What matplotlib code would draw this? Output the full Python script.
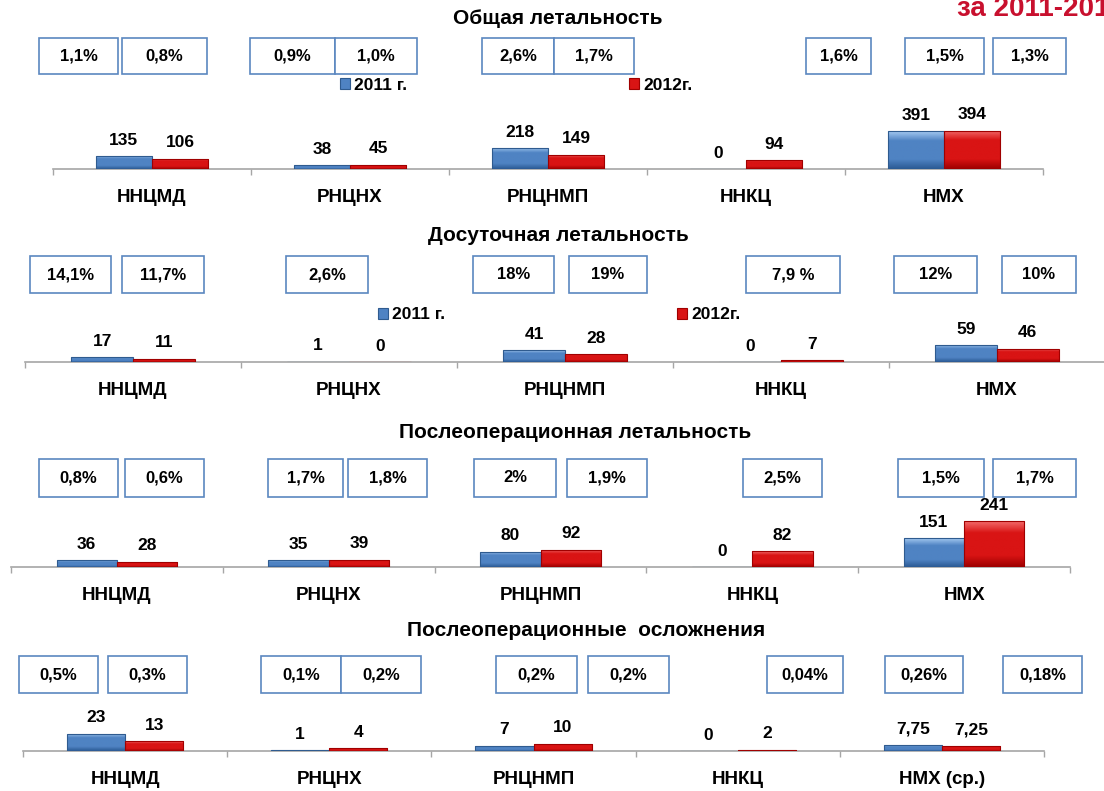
import matplotlib.pyplot as plt
import numpy as np
from matplotlib.patches import Rectangle, Patch
from matplotlib.colors import LinearSegmentedColormap

plt.rcParams["font.family"] = ["Liberation Sans", "DejaVu Sans"]
plt.rcParams["font.weight"] = "bold"

W, H = 1104, 791

# данные
categories = ["ННЦМД", "РНЦНХ", "РНЦНМП", "ННКЦ", "НМХ"]
categories_compl = ["ННЦМД", "РНЦНХ", "РНЦНМП", "ННКЦ", "НМХ (ср.)"]
titles = ["Общая летальность", "Досуточная летальность",
          "Послеоперационная летальность", "Послеоперационные  осложнения"]
series_names = ["2011 г.", "2012г."]

total_2011 = [135, 38, 218, 0, 391]
total_2012 = [106, 45, 149, 94, 394]
early_2011 = [17, 1, 41, 0, 59]
early_2012 = [11, 0, 28, 7, 46]
postop_2011 = [36, 35, 80, 0, 151]
postop_2012 = [28, 39, 92, 82, 241]
compl_2011 = [23, 1, 7, 0, 7.75]
compl_2012 = [13, 4, 10, 2, 7.25]

total_pct = ["1,1%", "0,8%", "0,9%", "1,0%", "2,6%", "1,7%", "1,6%", "1,5%", "1,3%"]
early_pct = ["14,1%", "11,7%", "2,6%", "18%", "19%", "7,9 %", "12%", "10%"]
postop_pct = ["0,8%", "0,6%", "1,7%", "1,8%", "2%", "1,9%", "2,5%", "1,5%", "1,7%"]
compl_pct = ["0,5%", "0,3%", "0,1%", "0,2%", "0,2%", "0,2%", "0,04%", "0,26%", "0,18%"]

# раскладка (в пикселях)
panels = [
    dict(cats=categories, v1=total_2011, v2=total_2012, pct=total_pct,
         x0=53, x1=1043, base=169, scale=0.097, title_xy=(558, 18),
         box_y=(38, 74),
         boxes=[(39, 118), (122, 207), (250, 335), (335, 417), (482, 554),
                (554, 634), (806, 871), (905, 984), (993, 1066)],
         legend=[(340, 85), (629, 85)]),
    dict(cats=categories, v1=early_2011, v2=early_2012, pct=early_pct,
         x0=25, x1=1105, base=362, scale=0.29, title_xy=(558, 236),
         box_y=(256, 293),
         boxes=[(30, 111), (122, 204), (286, 368), (473, 554), (569, 647),
                (746, 840), (894, 977), (1002, 1076)],
         legend=[(378, 315), (677, 315)]),
    dict(cats=categories, v1=postop_2011, v2=postop_2012, pct=postop_pct,
         x0=11, x1=1070, base=567, scale=0.19, title_xy=(575, 433),
         box_y=(459, 497),
         boxes=[(39, 118), (125, 204), (268, 343), (348, 427), (474, 556),
                (567, 647), (743, 822), (898, 984), (993, 1076)],
         legend=None),
    dict(cats=categories_compl, v1=compl_2011, v2=compl_2012, pct=compl_pct,
         x0=23, x1=1044, base=751, scale=0.75, title_xy=(586, 630),
         box_y=(656, 693),
         boxes=[(19, 98), (108, 187), (261, 341), (341, 421), (496, 577),
                (588, 669), (767, 843), (885, 963), (1003, 1082)],
         legend=None),
]

blue = dict(light="#A3C8F0", mid="#4F83C3", dark="#2B5A94", edge="#2F5B8F")
red = dict(light="#F26A6A", mid="#D91414", dark="#9E0000", edge="#A00000")
box_color = "#5B87C0"
axis_color = "#A6A6A6"


def fmt(v):
    return f"{v:g}".replace(".", ",")


def shade(ax, bars, c):
    cmap = LinearSegmentedColormap.from_list(
        "g", [(0, c["dark"]), (0.25, c["mid"]), (0.75, c["mid"]), (1, c["light"])])
    grad = np.linspace(0, 1, 64).reshape(-1, 1)
    for b in bars:
        h = b.get_height()
        if h <= 0:
            continue
        x, w = b.get_x(), b.get_width()
        im = ax.imshow(grad, extent=(x, x + w, 0, h), origin="lower", cmap=cmap,
                       aspect="auto", zorder=3, interpolation="bilinear")
        im.set_clip_path(b)


fig = plt.figure(figsize=(W / 100, H / 100), dpi=100)
fig.patch.set_facecolor("white")

for p, title in zip(panels, titles):
    hpx = 60
    ax = fig.add_axes([p["x0"] / W, 1 - p["base"] / H, (p["x1"] - p["x0"]) / W, hpx / H])
    n = len(p["cats"])
    x = np.arange(n) + 0.5
    bw = 0.285
    b1 = ax.bar(x - bw / 2, p["v1"], bw, facecolor="none", edgecolor=blue["edge"], lw=0.8, zorder=4)
    b2 = ax.bar(x + bw / 2, p["v2"], bw, facecolor="none", edgecolor=red["edge"], lw=0.8, zorder=4)
    shade(ax, b1, blue)
    shade(ax, b2, red)
    for xs, vals in ((x - bw / 2, p["v1"]), (x + bw / 2, p["v2"])):
        for xi, v in zip(xs, vals):
            ax.annotate(fmt(v), (xi, v), xytext=(0, 6), textcoords="offset points",
                        ha="center", va="bottom", fontsize=12.5, fontweight="bold")
    ax.set_xlim(0, n)
    ax.set_ylim(0, hpx / p["scale"])
    ax.patch.set_alpha(0)
    for s in ("top", "left", "right"):
        ax.spines[s].set_visible(False)
    ax.spines["bottom"].set_color(axis_color)
    ax.spines["bottom"].set_linewidth(1.2)
    ax.set_yticks([])
    ax.set_xticks(np.arange(n + 1))
    ax.set_xticklabels([])
    ax.set_xticks(x, minor=True)
    ax.set_xticklabels(p["cats"], minor=True, fontsize=13.5, fontweight="bold")
    ax.tick_params(axis="x", which="major", direction="out", length=4, width=1, color=axis_color)
    ax.tick_params(axis="x", which="minor", length=0, pad=14.5)

    fig.text(p["title_xy"][0] / W, 1 - p["title_xy"][1] / H, title, ha="center", va="center",
             fontsize=15, fontweight="bold")

    y0, y1 = p["box_y"]
    for (bx0, bx1), label in zip(p["boxes"], p["pct"]):
        fig.add_artist(Rectangle((bx0 / W, 1 - y1 / H), (bx1 - bx0) / W, (y1 - y0) / H,
                                 transform=fig.transFigure, facecolor="white",
                                 edgecolor=box_color, lw=1.2))
        fig.text((bx0 + bx1) / 2 / W, 1 - (y0 + y1) / 2 / H, label, ha="center", va="center",
                 fontsize=12, fontweight="bold")

    if p["legend"]:
        for (lx, ly), c, name in zip(p["legend"], (blue, red), series_names):
            fig.legend(handles=[Patch(facecolor=c["mid"], edgecolor=c["edge"], lw=0.8)],
                       labels=[name], loc="center left", bbox_to_anchor=(lx / W, 1 - ly / H),
                       frameon=False, borderpad=0, borderaxespad=0, handlelength=0.55,
                       handleheight=0.55, handletextpad=0.25, prop=dict(size=12.5, weight="bold"))

# заголовок в углу слайда, обрезан краем как на исходнике
fig.text(957 / W, 1 - 16 / H, "за 2011-2012 гг.", color="#C8102E", fontsize=20,
         fontweight="bold", ha="left", va="baseline")

fig.savefig("out.png", dpi=100)
